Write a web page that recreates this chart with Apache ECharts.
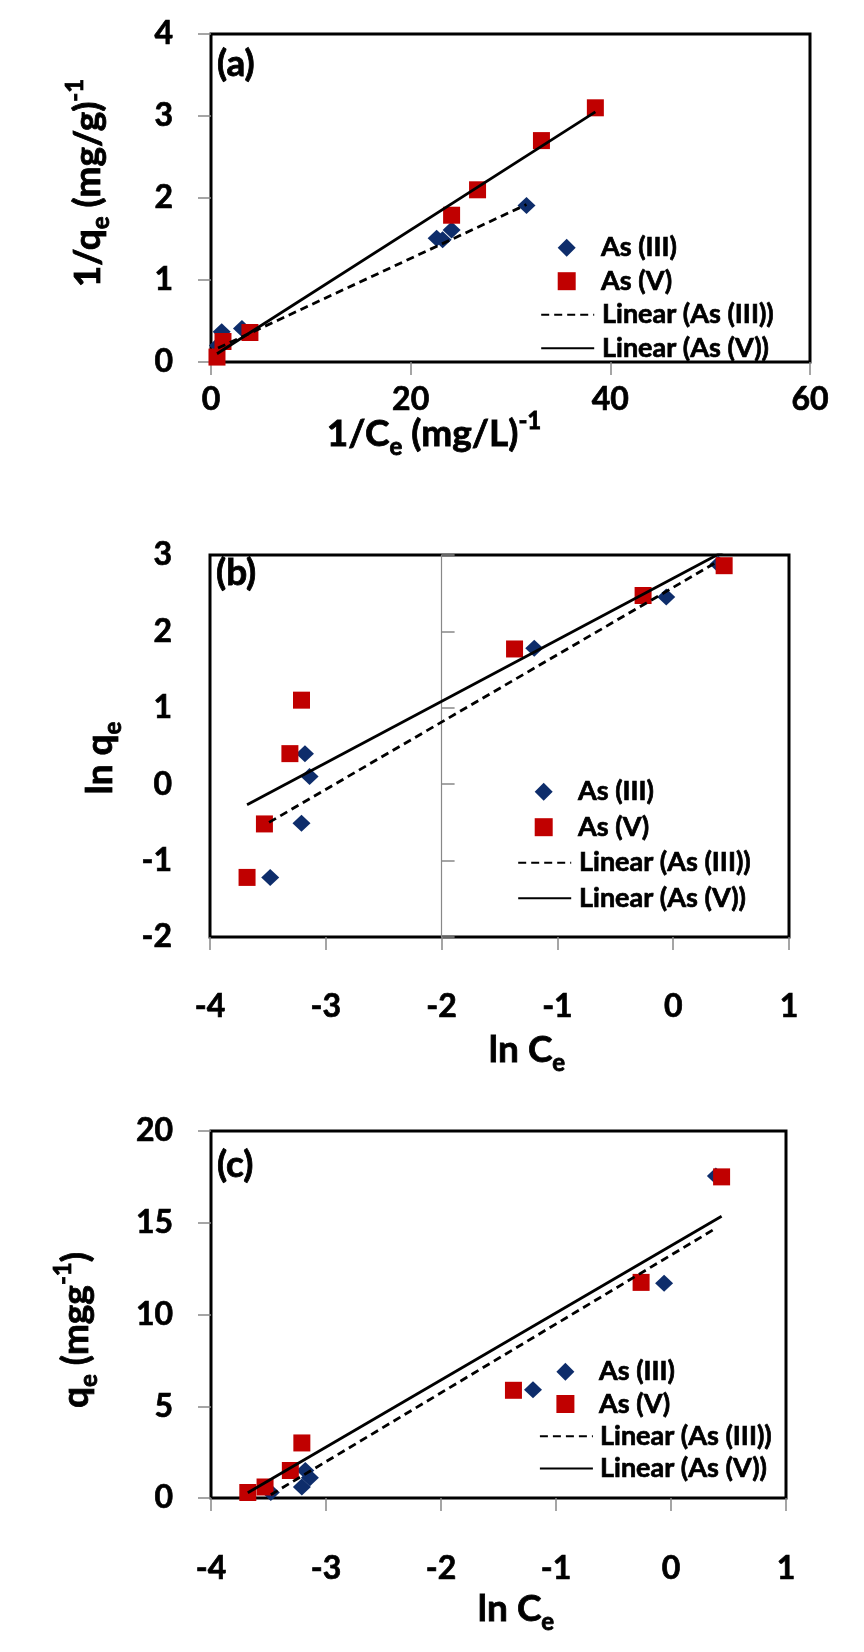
<!DOCTYPE html>
<html><head><meta charset="utf-8">
<script src="https://cdn.jsdelivr.net/npm/echarts@6/dist/echarts.min.js"></script>
<style>html,body{margin:0;padding:0;background:#fff}#c{width:864px;height:1652px}</style>
</head><body><div id="c"></div>
<script>
// ---------- data ----------
// Panel (a): 1/qe vs 1/Ce
const aAs3 = [[0.7,0.2],[1.07,0.37],[3.1,0.41],[22.6,1.51],[23.2,1.49],[24.1,1.61],[31.6,1.91]];
const aAs5 = [[0.6,0.06],[1.2,0.25],[3.9,0.36],[24.1,1.79],[26.7,2.1],[33.1,2.7],[38.5,3.1]];
const aFit3 = [[0.7,0.17],[31.6,1.92]];
const aFit5 = [[0.6,0.1],[38.5,3.05]];
// Panel (b): ln qe vs ln Ce
const bAs3 = [[-3.48,-1.22],[-3.21,-0.51],[-3.14,0.10],[-3.18,0.40],[-1.20,1.78],[-0.06,2.45],[0.39,2.88]];
const bAs5 = [[-3.68,-1.22],[-3.53,-0.52],[-3.31,0.40],[-3.21,1.10],[-1.37,1.77],[-0.26,2.47],[0.44,2.86]];
const bFit3 = [[-3.49,-0.50],[0.39,2.92]];
const bFit5 = [[-3.68,-0.27],[0.44,3.05]];
// Panel (c): qe vs ln Ce
const cAs3 = [[-3.48,0.3],[-3.21,0.6],[-3.14,1.1],[-3.18,1.5],[-1.20,5.9],[-0.06,11.7],[0.39,17.55]];
const cAs5 = [[-3.68,0.3],[-3.53,0.6],[-3.31,1.5],[-3.21,3.0],[-1.37,5.87],[-0.26,11.75],[0.44,17.5]];
const cFit3 = [[-3.48,0.18],[0.39,14.7]];
const cFit5 = [[-3.68,0.29],[0.44,15.35]];
// axis ranges
const aX = {min:0, max:60, interval:20};
const aY = {min:0, max:4, interval:1};
const bX = {min:-4, max:1, interval:1};
const bY = {min:-2, max:3, interval:1};
const bYCross = -2; // vertical axis crosses at ln Ce = -2
const cX = {min:-4, max:1, interval:1};
const cY = {min:0, max:20, interval:5};
const names = ['As (III)','As (V)','Linear (As (III))','Linear (As (V))'];

// ---------- styles ----------
const FONT = 'Lato';
const NAVY = '#0E2D6B', RED = '#C00000';
const heavy = {textBorderColor:'#000', textBorderWidth:0.7};
const lab = Object.assign({fontFamily:FONT, fontWeight:'bold', fontSize:32, color:'#000'}, heavy);
const tick = {show:true, length:13, inside:false, lineStyle:{color:'#888', width:1.5}};
function xa(grid, r, margin){
  return Object.assign({gridIndex:grid, type:'value', axisLine:{show:false, onZero:false},
    axisTick:tick, splitLine:{show:false}, axisLabel:Object.assign({margin:margin}, lab)}, r);
}
function ya(grid, r, ticks){
  return Object.assign({gridIndex:grid, type:'value', axisLine:{show:false, onZero:false},
    axisTick:ticks ? tick : {show:false}, splitLine:{show:false}, axisLabel:Object.assign({margin:38}, lab)}, r);
}
function panelSeries(xi, yi, s3, s5, f3, f5){
  return [
    {name:names[0], type:'scatter', xAxisIndex:xi, yAxisIndex:yi, data:s3, symbol:'diamond', symbolSize:[18,17], itemStyle:{color:NAVY, opacity:1}, z:2},
    {name:names[1], type:'scatter', xAxisIndex:xi, yAxisIndex:yi, data:s5, symbol:'rect', symbolSize:17, itemStyle:{color:RED, opacity:1}, z:2},
    {name:names[2], type:'line', xAxisIndex:xi, yAxisIndex:yi, data:f3, symbol:'none', itemStyle:{color:'#000'}, lineStyle:{color:'#000', width:2.8, type:[8,5]}, z:3},
    {name:names[3], type:'line', xAxisIndex:xi, yAxisIndex:yi, data:f5, symbol:'none', itemStyle:{color:'#000'}, lineStyle:{color:'#000', width:2.8, type:'solid'}, z:3}
  ];
}
// two legend blocks per panel: markers (narrow icons) and trend lines (wide icons)
function legends(iconCx, row1, lh, textStart){
  const ts = Object.assign({fontFamily:FONT, fontWeight:'bold', fontSize:27, lineHeight:lh, color:'#000'}, heavy);
  return [
    {left:iconCx - 9, top:row1 - lh/2, orient:'vertical', itemWidth:18, itemHeight:18, itemGap:0,
      selectedMode:false, symbolKeepAspect:true,
      textStyle:Object.assign({padding:[0,0,0,textStart - (iconCx + 9 + 5)]}, ts),
      data:[{name:names[0], icon:'diamond'},{name:names[1], icon:'rect'}]},
    {left:iconCx - 26.5, top:row1 + 1.5*lh, orient:'vertical', itemWidth:53, itemHeight:17, itemGap:0,
      selectedMode:false,
      itemStyle:{color:'rgba(0,0,0,0)', borderColor:'rgba(0,0,0,0)', borderWidth:0, opacity:0},
      textStyle:Object.assign({padding:[0,0,0,textStart - (iconCx + 26.5 + 5)]}, ts),
      data:[{name:names[2]},{name:names[3]}]}
  ];
}
const tok = {fontFamily:FONT, fontWeight:'bold', fill:'#000', stroke:'#000', lineWidth:0.8};
const rich = {
  n:Object.assign({fontSize:37, lineHeight:50}, tok),
  s:Object.assign({fontSize:24, lineHeight:26, verticalAlign:'bottom'}, tok),
  p:Object.assign({fontSize:24, lineHeight:26, verticalAlign:'top'}, tok)
};
function title(text, x, y, rot){
  return {type:'text', x:x, y:y, rotation:rot ? Math.PI/2 : 0, z:10,
    style:{text:text, rich:rich, align:'center', verticalAlign:'middle', stroke:'#000', lineWidth:0.8}};
}
function plabel(text, x, y){
  return {type:'text', x:x, y:y, z:10, style:{text:text, fontFamily:FONT, fontWeight:'bold', fontSize:37, fill:'#000', stroke:'#000', lineWidth:0.8, align:'left', verticalAlign:'middle'}};
}

const gridStyle = {show:true, borderColor:'#000', borderWidth:3, backgroundColor:'#fff'};
const option = {
  animation:false,
  backgroundColor:'#fff',
  grid:[
    Object.assign({left:211, top:34, width:599, height:328}, gridStyle),
    Object.assign({left:210, top:555, width:579, height:382}, gridStyle),
    Object.assign({left:211, top:1131, width:575, height:367}, gridStyle)
  ],
  xAxis:[
    xa(0, aX, 22),
    xa(1, bX, 54),
    {gridIndex:1, type:'value', show:false, min:bX.min - bYCross, max:bX.max - bYCross, axisLine:{onZero:false}},
    xa(2, cX, 55)
  ],
  yAxis:[
    ya(0, aY, true),
    ya(1, bY, false),
    {gridIndex:1, type:'value', min:bY.min, max:bY.max, interval:bY.interval,
      axisLine:{show:true, onZero:true, onZeroAxisIndex:2, lineStyle:{color:'#888', width:1.2}},
      axisTick:tick, axisLabel:{show:false}, splitLine:{show:false}},
    ya(2, cY, true)
  ],
  legend:[].concat(
    legends(561.7, 242.7, 33.5, 596),
    legends(538.7, 786.7, 35.5, 573),
    legends(560.4, 1366.7, 32.3, 594)
  ),
  series:[].concat(
    panelSeries(0, 0, aAs3, aAs5, aFit3, aFit5),
    panelSeries(1, 1, bAs3, bAs5, bFit3, bFit5),
    panelSeries(3, 3, cAs3, cAs5, cFit3, cFit5)
  ),
  graphic:[
    plabel('(a)', 217, 64),
    plabel('(b)', 216, 573),
    plabel('(c)', 217, 1165),
    title('{n|1/q}{s|e}{n| (mg/g)}{p|-1}', 88, 183, true),
    title('{n|1/C}{s|e}{n| (mg/L)}{p|-1}', 434, 434, false),
    title('{n|ln q}{s|e}', 100, 758, true),
    title('{n|ln C}{s|e}', 527, 1050, false),
    title('{n|q}{s|e}{n| (mgg}{p|-1}{n|)}', 76, 1330, true),
    title('{n|ln C}{s|e}', 516, 1609, false)
  ]
};
const chart = echarts.init(document.getElementById('c'), null, {renderer:'canvas'});
chart.setOption(option);
</script></body></html>
